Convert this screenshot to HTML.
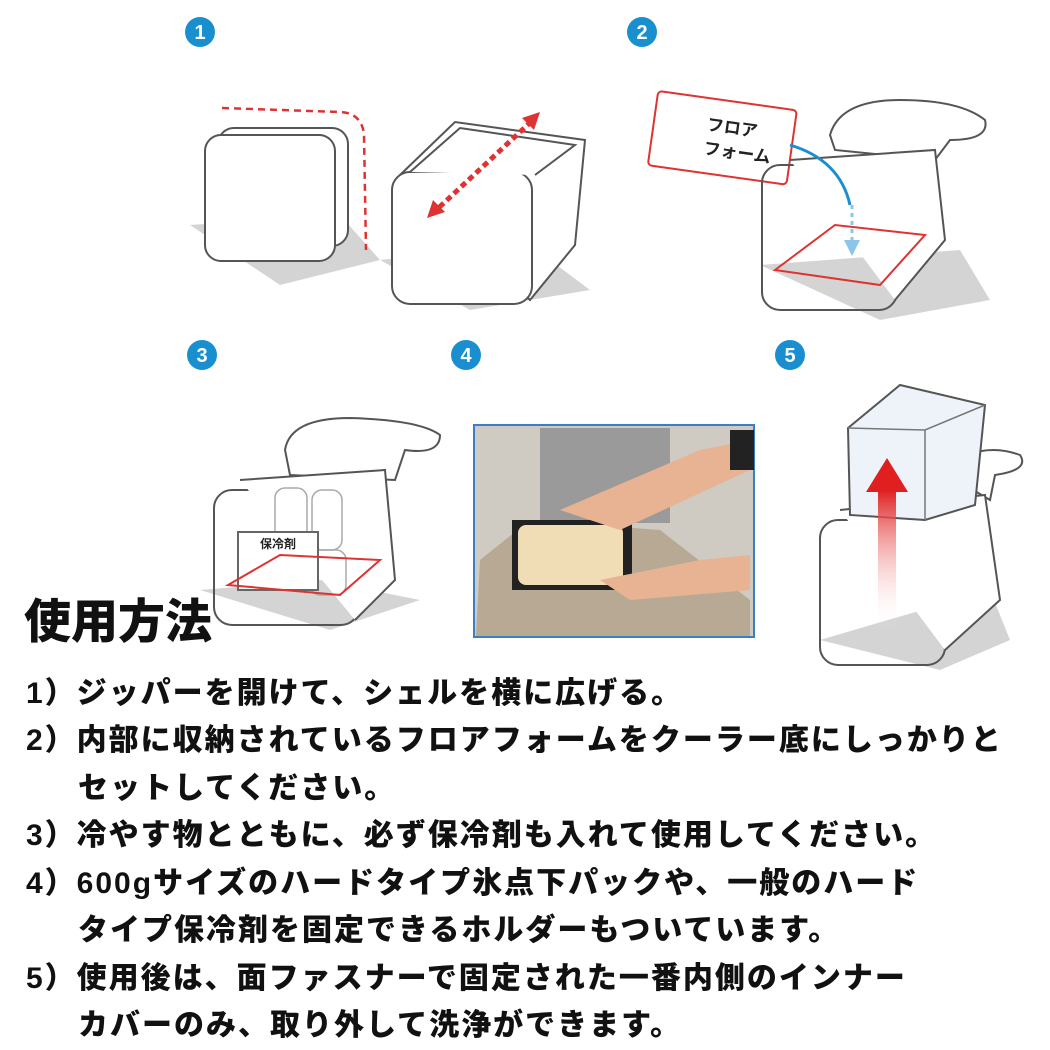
<!DOCTYPE html>
<html><head><meta charset="utf-8"><style>
body{margin:0;width:1050px;height:1050px;background:#fff;position:relative;overflow:hidden;font-family:"Liberation Sans","Noto Sans CJK JP",sans-serif;}
svg{position:absolute;left:0;top:0}
.t{position:absolute;left:26px;font-weight:900;font-size:30px;color:#111;white-space:nowrap;letter-spacing:2px;line-height:36px}
.h{position:absolute;left:24px;top:594px;font-weight:900;font-size:47px;color:#111;line-height:56px}
</style></head><body>
<svg width="1050" height="1050" viewBox="0 0 1050 1050">
<defs>
<linearGradient id="ar" x1="0" y1="1" x2="0" y2="0"><stop offset="0" stop-color="#fff" stop-opacity="0"/><stop offset="1" stop-color="#e02020"/></linearGradient>
</defs>
<g font-family="Liberation Sans" font-weight="bold" font-size="20" fill="#fff" text-anchor="middle">
<circle cx="200" cy="32" r="15" fill="#1a8fd0"/><text x="200" y="39">1</text>
<circle cx="642" cy="32" r="15" fill="#1a8fd0"/><text x="642" y="39">2</text>
<circle cx="202" cy="355" r="15" fill="#1a8fd0"/><text x="202" y="362">3</text>
<circle cx="466" cy="355" r="15" fill="#1a8fd0"/><text x="466" y="362">4</text>
<circle cx="790" cy="355" r="15" fill="#1a8fd0"/><text x="790" y="362">5</text>
</g>
<g fill="#d4d4d4">
<polygon points="190,225 340,215 380,260 280,285"/>
<polygon points="380,260 530,245 590,290 470,310"/>
<polygon points="760,265 960,250 990,300 880,320"/>
<polygon points="200,590 320,580 420,600 330,630"/>
<polygon points="820,640 990,590 1010,640 940,670"/>
</g>
<g stroke="#555" stroke-width="2" fill="#fff">
<rect x="218" y="128" width="130" height="118" rx="16"/>
<rect x="205" y="135" width="130" height="126" rx="16"/>
</g>
<path d="M222 108 L340 112 Q362 113 364 135 L366 250" stroke="#d33" stroke-width="2.5" fill="none" stroke-dasharray="7,5"/>
<g stroke="#555" stroke-width="2" fill="#fff">
<path d="M400 175 L455 122 L585 140 L575 245 L530 300 Z"/>
<rect x="392" y="172" width="140" height="132" rx="18"/>
<path d="M410 172 L460 128 L575 145 L535 175"/>
</g>
<path d="M432 214 L535 118" stroke="#d33" stroke-width="5" stroke-dasharray="6,4"/>
<polygon points="540,112 522,118 534,130" fill="#d33"/><polygon points="427,218 445,212 433,200" fill="#d33"/>
<g transform="rotate(8 720 140)"><rect x="652" y="100" width="140" height="75" rx="4" fill="#fff" stroke="#d33" stroke-width="2"/>
<text x="705" y="132" font-size="17" font-weight="bold" font-family="Noto Sans CJK JP" fill="#222">フロア</text>
<text x="705" y="156" font-size="17" font-weight="bold" font-family="Noto Sans CJK JP" fill="#222">フォーム</text></g>
<g stroke="#555" stroke-width="2" fill="#fff">
<path d="M830 135 Q840 100 900 100 Q960 100 985 120 Q990 140 950 140 L935 160 L835 150 Z"/>
<rect x="762" y="165" width="135" height="145" rx="18" fill="none"/>
<path d="M790 160 L935 150 L945 240 L895 300"/>
</g>
<path d="M775 270 L835 225 L925 235 L880 285 Z" fill="none" stroke="#d33" stroke-width="2"/>
<path d="M790 145 Q840 160 850 205" stroke="#1a8fd0" stroke-width="3" fill="none"/>
<path d="M852 205 L852 250" stroke="#8cc4ea" stroke-width="3" stroke-dasharray="4,4"/>
<polygon points="844,240 860,240 852,256" fill="#8cc4ea"/>
<g stroke="#555" stroke-width="2" fill="#fff">
<path d="M285 450 Q290 418 350 418 Q420 420 440 435 Q440 455 405 450 L395 480 L290 475 Z"/>
<rect x="214" y="490" width="145" height="135" rx="18" fill="none"/>
<path d="M240 480 L385 470 L395 580 L355 620"/>
</g>
<g stroke="#aaa" fill="none" stroke-width="1.5"><rect x="275" y="488" width="32" height="60" rx="10"/><rect x="312" y="490" width="30" height="60" rx="10"/><rect x="310" y="550" width="36" height="45" rx="10"/></g>
<rect x="238" y="532" width="80" height="58" fill="#fff" stroke="#666" stroke-width="2"/>
<text x="278" y="548" font-size="12" font-weight="bold" font-family="Noto Sans CJK JP" text-anchor="middle" fill="#222">保冷剤</text>
<path d="M228 585 L280 555 L380 560 L340 595 Z" fill="none" stroke="#d33" stroke-width="2"/>
<rect x="474" y="425" width="280" height="212" fill="#cfcac2" stroke="#3a7fc6" stroke-width="2"/>
<rect x="540" y="428" width="130" height="95" fill="#9a9a9a"/>
<polygon points="480,560 530,520 660,530 750,600 750,636 476,636" fill="#b8a995"/>
<rect x="512" y="520" width="120" height="70" fill="#222"/>
<rect x="518" y="525" width="105" height="60" rx="8" fill="#f0dcb5"/>
<path d="M560 510 L700 450 L750 440 L750 470 L620 530 Z" fill="#e7b393"/>
<path d="M600 580 L700 560 L750 555 L750 590 L630 600 Z" fill="#e7b393"/>
<rect x="730" y="430" width="24" height="40" fill="#222"/>
<g stroke="#555" stroke-width="2" fill="#fff">
<path d="M940 470 Q980 440 1020 455 Q1030 470 995 475 L990 500 Z"/>
<rect x="820" y="520" width="125" height="145" rx="18" fill="none"/>
<path d="M840 510 L985 495 L1000 600 L945 650"/>
</g>
<path d="M848 428 L900 385 L985 405 L975 505 L925 520 L850 515 Z" fill="#eef3fa" stroke="#555" stroke-width="2"/>
<path d="M848 428 L925 430 L985 405 M925 430 L925 520" stroke="#777" fill="none" stroke-width="1.5"/>
<rect x="878" y="490" width="18" height="140" fill="url(#ar)"/>
<polygon points="866,492 908,492 887,458" fill="#e02020"/>
</svg>
<div class="h">使用方法</div>
<div class="t" style="top:676px">1）ジッパーを開けて、シェルを横に広げる。</div>
<div class="t" style="top:723px">2）内部に収納されているフロアフォームをクーラー底にしっかりと</div>
<div class="t" style="top:771px;left:78px">セットしてください。</div>
<div class="t" style="top:818px">3）冷やす物とともに、必ず保冷剤も入れて使用してください。</div>
<div class="t" style="top:866px">4）600gサイズのハードタイプ氷点下パックや、一般のハード</div>
<div class="t" style="top:913px;left:78px">タイプ保冷剤を固定できるホルダーもついています。</div>
<div class="t" style="top:961px">5）使用後は、面ファスナーで固定された一番内側のインナー</div>
<div class="t" style="top:1008px;left:78px">カバーのみ、取り外して洗浄ができます。</div>
</body></html>
